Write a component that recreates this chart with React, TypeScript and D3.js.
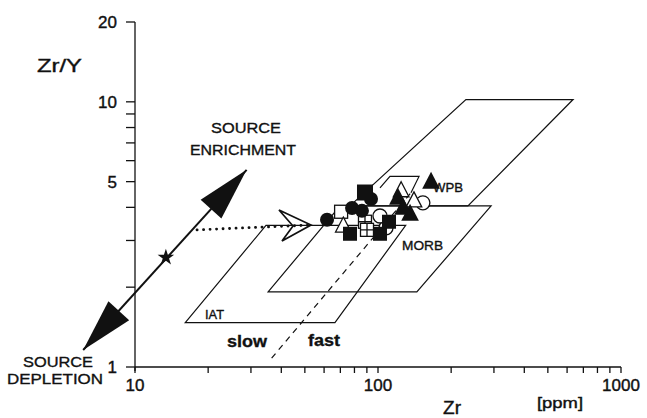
import React from 'react';
import * as d3 from 'd3';

const W = 647;
const H = 418;

// ---- axes ----
const xMajorTicks = [10, 100, 1000];
const xMinorTicks = [20, 30, 40, 50, 60, 70, 80, 90, 200, 300, 400, 500, 600, 700, 800, 900];
const yLabelTicks = [1, 5, 10, 20];
const yMinorTicks = [2, 3, 4, 6, 7, 8, 9];

// ---- discrimination fields: [Zr ppm, Zr/Y] ----
const iatField: [number, number][] = [[16.1, 1.47], [66.5, 1.47], [130, 3.42], [34.6, 3.42]];
const morbField: [number, number][] = [[35.3, 1.92], [144.5, 1.92], [292, 4.05], [69.8, 4.05]];
const wpbField: [number, number][] = [[230, 10.2], [635, 10.2], [234.5, 4.05], [76.7, 4.05]];
const fastCap: [number, number][] = [[101.9, 4.74], [112, 5.23], [147.5, 5.23], [136.7, 4.54]];
const slowFastDivide: [number, number][] = [[36.5, 1.08], [136.7, 4.54]];

// ---- source vector ----
const sourceVector: [number, number][] = [[6.12, 1.159], [28.8, 5.54]];
const sourceStar: [number, number] = [13.4, 2.59];
const meltTrend: [number, number][] = [[18.0, 3.29], [53.0, 3.43]];

// ---- samples ----
const filledCircles: [number, number][] = [[61.7, 3.59], [93.6, 4.3], [78.2, 3.98], [85.9, 3.88]];
const filledSquares: [number, number][] = [[88.4, 4.55], [76.7, 3.18], [101.9, 3.18], [111, 3.53]];
const filledTriangles: [number, number][] = [[120.8, 4.34], [135.5, 3.78], [165.3, 4.99], [126.8, 3.98]];
const openSquares: [number, number][] = [[70.5, 3.85]];
const openCrossSquares: [number, number][] = [[88.4, 3.53], [90.1, 3.29]];
const openCircles: [number, number][] = [[153, 4.16], [107.9, 3.35], [101.9, 3.71]];
const openTriangles: [number, number][] = [[124.5, 4.62], [140.6, 4.23], [72, 3.4]];

const FONT = "'Liberation Sans', Arial, Helvetica, sans-serif";

export default function App() {
  const x = d3.scaleLog().domain([10, 1000]).range([135, 621]);
  const y = d3.scaleLog().domain([1, 20]).range([367, 22]);
  const line = d3.line<[number, number]>().x(d => x(d[0])).y(d => y(d[1]));
  const poly = (pts: [number, number][]) => line(pts) + 'Z';

  const x0 = x(10), x1 = x(1000), y0 = y(1), y1 = y(20);

  // arrowheads of the source vector
  const p0: [number, number] = [x(sourceVector[0][0]), y(sourceVector[0][1])];
  const p1: [number, number] = [x(sourceVector[1][0]), y(sourceVector[1][1])];
  const head = (tip: [number, number], from: [number, number], L = 53, hw = 14) => {
    const dx = from[0] - tip[0], dy = from[1] - tip[1];
    const len = Math.hypot(dx, dy);
    const ux = dx / len, uy = dy / len;
    const nx = -uy, ny = ux;
    const bx = tip[0] + ux * L, by = tip[1] + uy * L;
    return `M${tip[0]},${tip[1]}L${bx + nx * hw},${by + ny * hw}L${bx - nx * hw},${by - ny * hw}Z`;
  };

  const star = d3.symbol().type(d3.symbolStar).size(85)();
  const tri = (s: number) => `M0,${-s * 0.6}L${s * 0.52},${s * 0.4}L${-s * 0.52},${s * 0.4}Z`;

  const mt: [number, number] = [x(meltTrend[1][0]), y(meltTrend[1][1])];

  return (
    <svg width={W} height={H} style={{ position: 'absolute', left: 0, top: 0, background: '#fff' }}
      fontFamily={FONT}>
      <rect width={W} height={H} fill="#fff" />
      {/* axes */}
      <g stroke="#111" strokeWidth={1.3} fill="none">
        <line x1={x0} x2={x0} y1={y1} y2={y0 + 4} />
        <line x1={x0} x2={x1} y1={y0} y2={y0} />
        {yLabelTicks.concat(yMinorTicks).map(t => (
          <line key={'yt' + t} x1={x0 - 9} x2={x0} y1={y(t)} y2={y(t)} />
        ))}
        {xMajorTicks.concat(xMinorTicks).map(t => (
          <line key={'xt' + t} x1={x(t)} x2={x(t)} y1={y0} y2={y0 + 6} />
        ))}
      </g>
      <g fontSize={17} fill="#111" stroke="#111" strokeWidth={0.4} textAnchor="end">
        {yLabelTicks.map(t => (
          <text key={'yl' + t} x={x0 - 18} y={y(t) + 6}>{t}</text>
        ))}
      </g>
      <g fontSize={17} fill="#111" stroke="#111" strokeWidth={0.4} textAnchor="middle">
        {xMajorTicks.map(t => (
          <text key={'xl' + t} x={x(t)} y={391}>{t}</text>
        ))}
      </g>
      <g fill="#111" stroke="#111" strokeWidth={0.4}>
        <text x={37} y={72} fontSize={19} textLength={45} lengthAdjust="spacingAndGlyphs">Zr/Y</text>
        <text x={443} y={414} fontSize={18} textLength={18} lengthAdjust="spacingAndGlyphs">Zr</text>
        <text x={537} y={408} fontSize={15} textLength={46} lengthAdjust="spacingAndGlyphs">[ppm]</text>
      </g>

      {/* fields */}
      <g stroke="#111" strokeWidth={1.2} fill="none">
        <path d={poly(wpbField)} />
        <path d={poly(morbField)} />
        <path d={poly(iatField)} />
        <path d={line(fastCap) || ''} />
        <path d={line(slowFastDivide) || ''} strokeDasharray="6 5" />
      </g>

      {/* source vector */}
      <line x1={p0[0]} y1={p0[1]} x2={p1[0]} y2={p1[1]} stroke="#111" strokeWidth={2} />
      <path d={head(p1, p0)} fill="#111" />
      <path d={head(p0, p1)} fill="#111" />
      <path d={star || ''} transform={`translate(${x(sourceStar[0])},${y(sourceStar[1])})`} fill="#111" />

      {/* melting trend */}
      <path d={line(meltTrend) || ''} stroke="#111" strokeWidth={2.8} strokeLinecap="round"
        strokeDasharray="0.1 6.4" fill="none" />
      <path d={`M${mt[0] - 32},${mt[1] - 15}L${mt[0]},${mt[1]}L${mt[0] - 29},${mt[1] + 16}L${mt[0] - 18},${mt[1] + 1}Z`}
        fill="none" stroke="#111" strokeWidth={1.7} strokeLinejoin="miter" />

      {/* open samples */}
      <g stroke="#111" strokeWidth={1.3} fill="#fff">
        {openSquares.map((d, i) => (
          <rect key={'os' + i} x={x(d[0]) - 6.5} y={y(d[1]) - 6.5} width={13} height={13} />
        ))}
        {openCrossSquares.map((d, i) => (
          <g key={'oc' + i} transform={`translate(${x(d[0])},${y(d[1])})`}>
            <rect x={-6.5} y={-6.5} width={13} height={13} />
            <path d="M-6.5,0H6.5M0,-6.5V6.5" />
          </g>
        ))}
        {openCircles.map((d, i) => (
          <circle key={'oci' + i} cx={x(d[0])} cy={y(d[1])} r={7} />
        ))}
        {openTriangles.map((d, i) => (
          <path key={'ot' + i} d={tri(15)} transform={`translate(${x(d[0])},${y(d[1])})`} />
        ))}
      </g>
      {/* filled samples */}
      <g fill="#111">
        {filledCircles.map((d, i) => (
          <circle key={'fc' + i} cx={x(d[0])} cy={y(d[1])} r={7} />
        ))}
        {filledSquares.map((d, i) => (
          <rect key={'fs' + i} x={x(d[0]) - (i === 0 ? 8 : 7)} y={y(d[1]) - (i === 0 ? 8 : 7)}
            width={i === 0 ? 16 : 14} height={i === 0 ? 16 : 14} />
        ))}
        {filledTriangles.map((d, i) => (
          <path key={'ft' + i} d={tri(17)} transform={`translate(${x(d[0])},${y(d[1])})`} />
        ))}
      </g>

      {/* labels */}
      <g fill="#111" stroke="#111" strokeWidth={0.35}>
        <text x={246} y={133} fontSize={15} textAnchor="middle" textLength={70} lengthAdjust="spacingAndGlyphs">SOURCE</text>
        <text x={243} y={155} fontSize={15} textAnchor="middle" textLength={106} lengthAdjust="spacingAndGlyphs">ENRICHMENT</text>
        <text x={58} y={367} fontSize={15} textAnchor="middle" textLength={70} lengthAdjust="spacingAndGlyphs">SOURCE</text>
        <text x={55} y={384} fontSize={15} textAnchor="middle" textLength={96} lengthAdjust="spacingAndGlyphs">DEPLETION</text>
        <text x={433} y={192} fontSize={13} textLength={30} lengthAdjust="spacingAndGlyphs">WPB</text>
        <text x={402} y={250} fontSize={13} textLength={41} lengthAdjust="spacingAndGlyphs">MORB</text>
        <text x={205} y={319} fontSize={13} textLength={19} lengthAdjust="spacingAndGlyphs">IAT</text>
        <text x={227} y={347} fontSize={17} fontWeight="bold" textLength={40} lengthAdjust="spacingAndGlyphs">slow</text>
        <text x={308} y={346} fontSize={17} fontWeight="bold" textLength={32} lengthAdjust="spacingAndGlyphs">fast</text>
      </g>
    </svg>
  );
}
